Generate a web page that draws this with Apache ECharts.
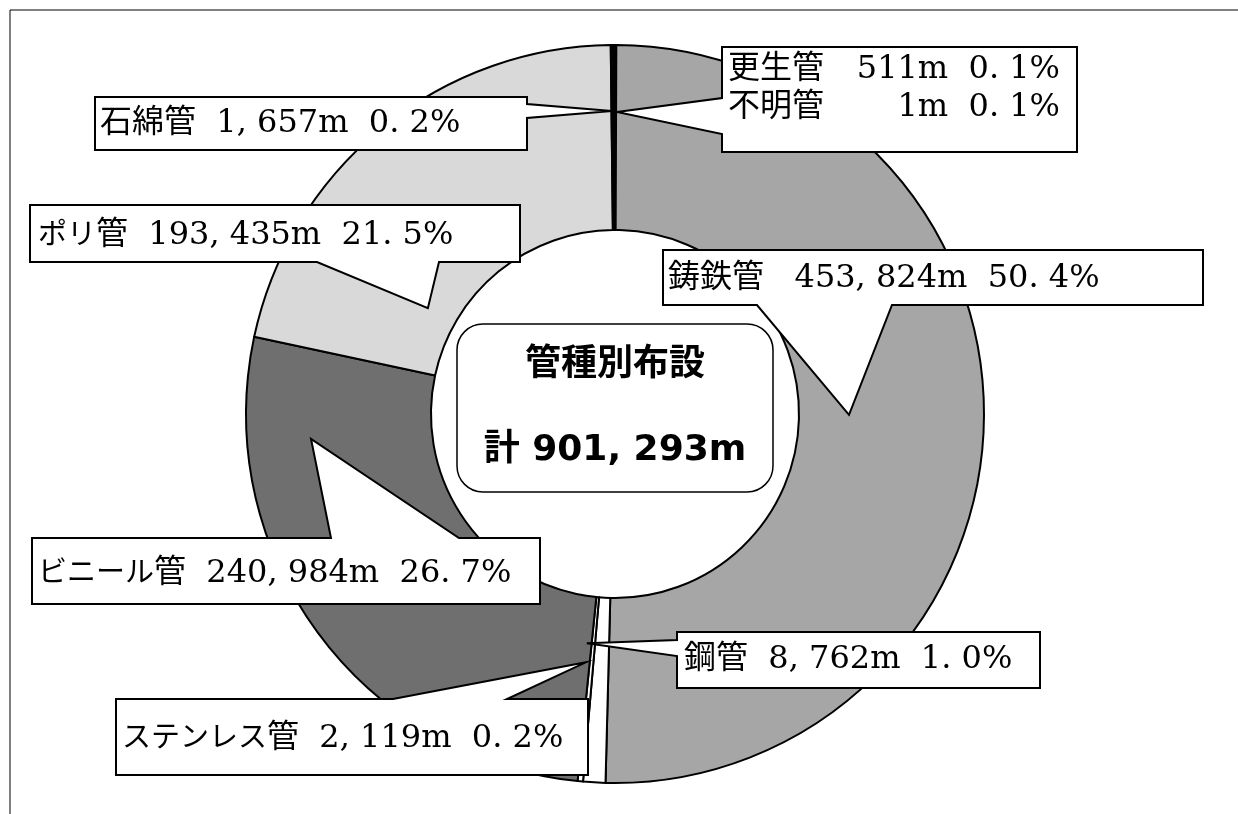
<!DOCTYPE html>
<html>
<head>
<meta charset="utf-8">
<script src="https://cdn.jsdelivr.net/npm/echarts@6/dist/echarts.min.js"></script>
<style>
html,body{margin:0;padding:0;background:#fff;}
#chart{width:1238px;height:814px;}
</style>
</head>
<body>
<div id="chart"></div>
<script>
// ---- data ----
const CATEGORIES = ['更生管', '不明管', '鋳鉄管', '鋼管', 'ステンレス管', 'ビニール管', 'ポリ管', '石綿管'];
const LENGTHS_M = [511, 1, 453824, 8762, 2119, 240984, 193435, 1657];
const PERCENT_LABELS = ['0.1', '0.1', '50.4', '1.0', '0.2', '26.7', '21.5', '0.2'];
const TITLE_TEXT = '管種別布設';
const TOTAL_PREFIX = '計';

// ---- styles / layout ----
const SLICE_COLORS = ['#ffffff', '#ffffff', '#a6a6a6', '#ffffff', '#ffffff', '#6f6f6f', '#d9d9d9', '#000000'];
const CENTER = [615, 414];
const R_IN = 184, R_OUT = 369;
const LABEL_POS = [[728, 70], [728, 108], [668, 279], [684, 660], [122, 739], [38, 574], [38, 236], [100, 124]];
const NAME_GAP = [0, 0, 3, 2, 2, 2, 2, 2];
const LABEL_SIZE = 32, KANA_SIZE = 29;
const LABEL_FONT = '"DejaVu Serif", "Noto Sans CJK JP", serif';
const CENTER_FONT = '"DejaVu Sans", "Noto Sans CJK JP", sans-serif';
// callout boxes [x1,y1,x2,y2], wedge side, base range, tip in polar [deg clockwise from top, radius]
const CALLOUTS = [
  {box: [722, 47, 1077, 152], side: 'left', base: [98, 134], tip: [0.38, 302]},
  {box: [95, 97, 527, 150], side: 'right', base: [104, 118], tip: [-0.57, 303]},
  {box: [30, 205, 520, 262], side: 'bottom', base: [317, 439], tip: [299.5, 215]},
  {box: [663, 250, 1203, 305], side: 'bottom', base: [757, 892], tip: [90.2, 234]},
  {box: [32, 538, 540, 604], side: 'top', base: [331, 459], tip: [265.3, 305]},
  {box: [677, 632, 1040, 688], side: 'left', base: [640, 656], tip: [187, 231]},
  {box: [116, 699, 588, 775], side: 'top', base: [393, 507], tip: [186.7, 250]}
];

function fmtNum(n) { return n.toLocaleString('en-US').replace(/,/g, ', '); }
function fmtPct(s) { return s.replace('.', '. ') + '%'; }
function polar(deg, r) {
  const a = deg * Math.PI / 180;
  return [CENTER[0] + r * Math.sin(a), CENTER[1] - r * Math.cos(a)];
}
function calloutPoints(c) {
  const [x1, y1, x2, y2] = c.box, [a, b] = c.base, t = polar(c.tip[0], c.tip[1]);
  switch (c.side) {
    case 'left': return [[x1, y1], [x2, y1], [x2, y2], [x1, y2], [x1, b], t, [x1, a]];
    case 'right': return [[x1, y1], [x2, y1], [x2, a], t, [x2, b], [x2, y2], [x1, y2]];
    case 'top': return [[x1, y1], [a, y1], t, [b, y1], [x2, y1], [x2, y2], [x1, y2]];
    default: return [[x1, y1], [x2, y1], [x2, y2], [b, y2], t, [a, y2], [x1, y2]];
  }
}
// name split into kana (narrower, proportional-looking) and kanji tokens
function nameTokens(name) {
  return name.replace(/([\u30A0-\u30FF]+)|([^\u30A0-\u30FF]+)/g,
    (m, kana, other) => kana ? '{k|' + kana + '}' : '{n|' + other + '}');
}
function labelText(i) {
  return nameTokens(CATEGORIES[i]) + '{v|' + ' '.repeat(NAME_GAP[i]) + fmtNum(LENGTHS_M[i]) + 'm  ' +
    fmtPct(PERCENT_LABELS[i]) + '}';
}

const RICH = {
  n: {fontSize: LABEL_SIZE, fontFamily: LABEL_FONT, color: '#000'},
  k: {fontSize: KANA_SIZE, fontFamily: LABEL_FONT, color: '#000'},
  v: {fontSize: LABEL_SIZE, fontFamily: LABEL_FONT, color: '#000'}
};
const RICH_RIGHT = {
  n: RICH.n, k: RICH.k,
  v: Object.assign({}, RICH.v, {align: 'right'})
};

const total = LENGTHS_M.reduce((s, v) => s + v, 0);
const ringData = CATEGORIES.map((name, i) => ({
  name, value: LENGTHS_M[i], itemStyle: {color: SLICE_COLORS[i]}
}));
const labelData = CATEGORIES.map((name, i) => {
  const d = {name, value: LENGTHS_M[i]};
  if (i <= 1) d.label = {width: 332, rich: RICH_RIGHT};
  return d;
});

const graphics = [
  {type: 'line', z: 0, shape: {x1: 10, y1: 10, x2: 1238, y2: 10}, style: {stroke: '#808080', lineWidth: 2}},
  {type: 'line', z: 0, shape: {x1: 10, y1: 10, x2: 10, y2: 814}, style: {stroke: '#000', lineWidth: 1}}
];
CALLOUTS.forEach(c => graphics.push({
  type: 'polygon', z: 4, silent: true,
  shape: {points: calloutPoints(c)},
  style: {fill: '#fff', stroke: '#000', lineWidth: 2, lineJoin: 'miter'}
}));
graphics.push({
  type: 'rect', z: 4, silent: true,
  shape: {x: 457, y: 324, width: 316, height: 168, r: 26},
  style: {fill: '#fff', stroke: '#000', lineWidth: 1.5}
});
graphics.push({
  type: 'text', z: 6, silent: true,
  style: {text: TITLE_TEXT, x: CENTER[0], y: 366, fill: '#000', font: 'bold 36px ' + CENTER_FONT,
          textAlign: 'center', textVerticalAlign: 'middle', align: 'center', verticalAlign: 'middle'}
});
graphics.push({
  type: 'text', z: 6, silent: true,
  style: {text: TOTAL_PREFIX + ' ' + fmtNum(total) + 'm', x: CENTER[0], y: 451, fill: '#000',
          font: 'bold 36px ' + CENTER_FONT,
          textAlign: 'center', textVerticalAlign: 'middle', align: 'center', verticalAlign: 'middle'}
});

const chart = echarts.init(document.getElementById('chart'), null, {renderer: 'canvas'});
chart.setOption({
  animation: false,
  backgroundColor: '#fff',
  graphic: graphics,
  series: [
    {
      type: 'pie', z: 1, silent: true,
      center: CENTER, radius: [R_IN, R_OUT],
      startAngle: 90, clockwise: true, avoidLabelOverlap: false,
      itemStyle: {borderColor: '#000', borderWidth: 2},
      label: {show: false}, labelLine: {show: false},
      emphasis: {disabled: true},
      data: ringData
    },
    {
      type: 'pie', z: 8, silent: true,
      center: CENTER, radius: [R_IN, R_OUT],
      startAngle: 90, clockwise: true, avoidLabelOverlap: false,
      itemStyle: {color: 'rgba(0,0,0,0)', borderWidth: 0},
      label: {
        show: true, color: '#000', fontSize: LABEL_SIZE, fontFamily: LABEL_FONT,
        formatter: p => labelText(p.dataIndex),
        rich: RICH
      },
      labelLine: {show: false},
      labelLayout: p => {
        const pos = LABEL_POS[p.dataIndex];
        return {x: pos[0], y: pos[1], align: 'left', verticalAlign: 'middle'};
      },
      emphasis: {disabled: true},
      data: labelData
    }
  ]
});
</script>
</body>
</html>
